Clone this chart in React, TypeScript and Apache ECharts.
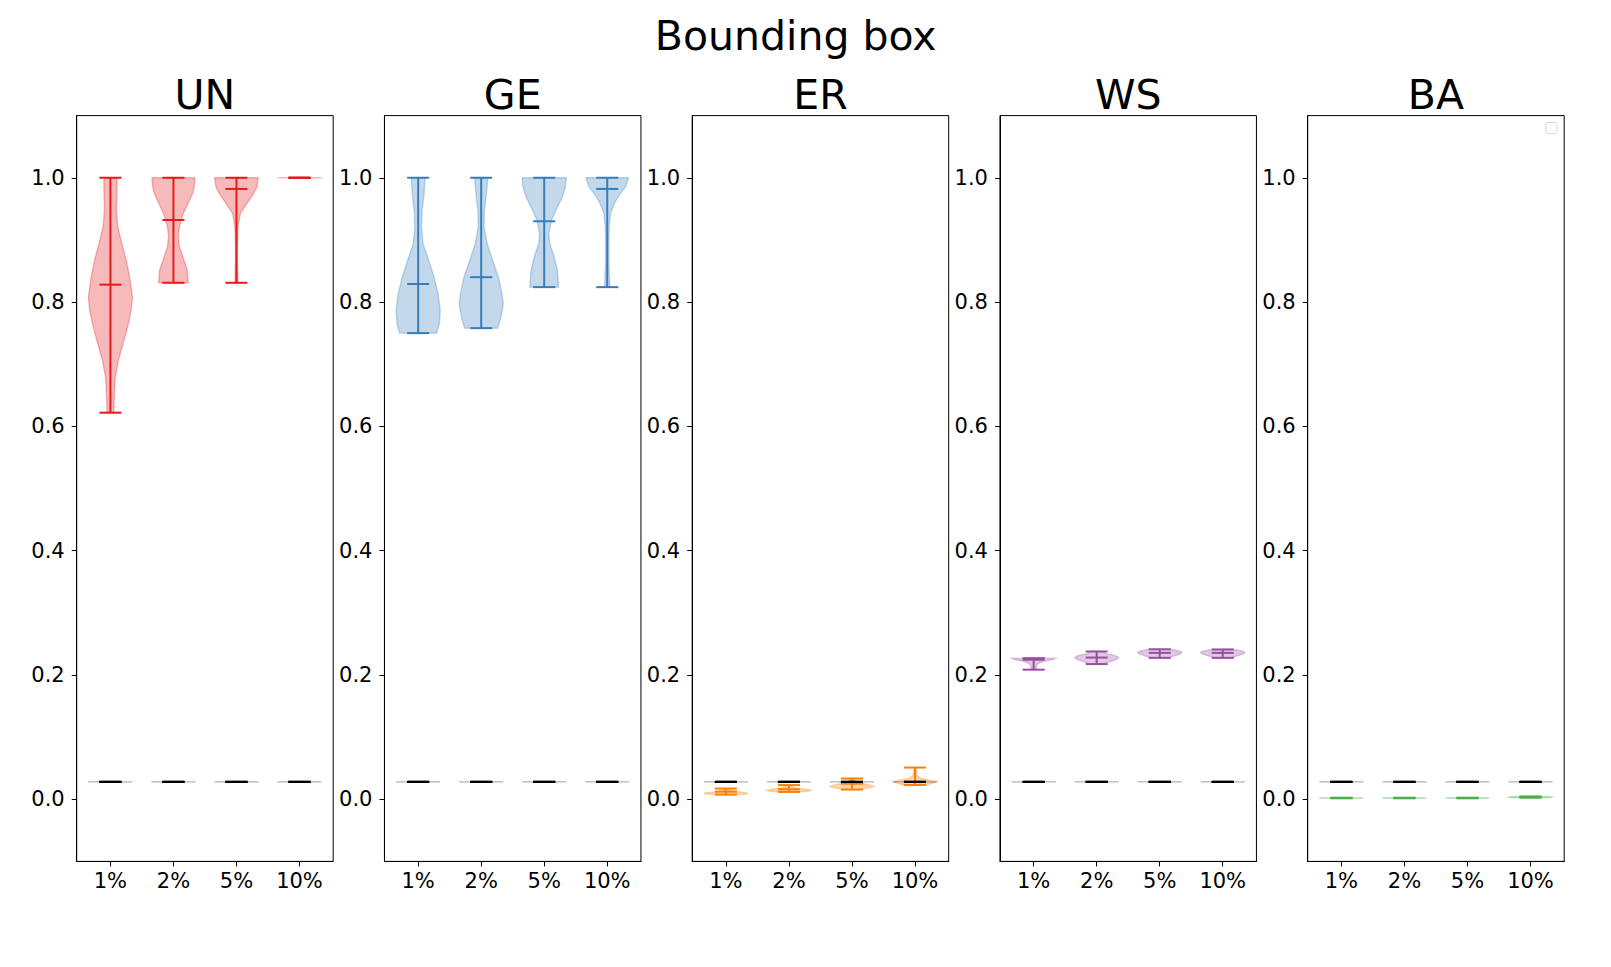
import React, { useEffect, useRef } from "react";
import * as echarts from "echarts";

// ---------- data ----------
const categories = ["1%", "2%", "5%", "10%"];
const positions = [1, 2, 3, 4];
const panels = ["UN", "GE", "ER", "WS", "BA"];
const panelColors = ["#e41a1c", "#377eb8", "#ff7f00", "#984ea3", "#4daf4a"];
const yTicks = [0, 0.2, 0.4, 0.6, 0.8, 1.0];
const suptitle = "Bounding box";

// constant reference violins (black)
const baselineValues = [0.028, 0.028, 0.028, 0.028];

// per-panel statistics (min / median / max)
const unMin = [0.622, 0.831, 0.831, 1.0];
const unMed = [0.828, 0.932, 0.982, 1.0];
const unMax = [1.0, 1.0, 1.0, 1.0];

const geMin = [0.75, 0.758, 0.824, 0.824];
const geMed = [0.829, 0.84, 0.93, 0.982];
const geMax = [1.0, 1.0, 1.0, 1.0];

const erMin = [0.0075, 0.0118, 0.0156, 0.023];
const erMed = [0.0123, 0.0161, 0.025, 0.0278];
const erMax = [0.0172, 0.0228, 0.0333, 0.051];

const wsMin = [0.2085, 0.2175, 0.2275, 0.2275];
const wsMed = [0.2245, 0.228, 0.2355, 0.2355];
const wsMax = [0.227, 0.2378, 0.2413, 0.241];

const baMin = [0.0015, 0.0015, 0.0015, 0.0025];
const baMed = [0.002, 0.002, 0.002, 0.0035];
const baMax = [0.0025, 0.0025, 0.0025, 0.0045];

// violin outlines: [value, relative half-width]
type Profile = [number, number][] | null;

const unProfiles: Profile[] = [
  [[0.622, 0.15], [0.652, 0.18], [0.679, 0.22], [0.706, 0.36], [0.733, 0.57], [0.76, 0.78], [0.787, 0.94], [0.808, 1.0], [0.84, 0.87], [0.867, 0.72], [0.894, 0.52], [0.921, 0.33], [0.948, 0.27], [0.975, 0.29], [1.0, 0.3]],
  [[0.831, 0.67], [0.851, 0.63], [0.867, 0.48], [0.889, 0.27], [0.905, 0.22], [0.921, 0.27], [0.943, 0.45], [0.959, 0.67], [0.975, 0.87], [0.985, 0.94], [1.0, 0.97]],
  [[0.831, 0.07], [0.867, 0.04], [0.894, 0.045], [0.921, 0.07], [0.943, 0.18], [0.959, 0.48], [0.975, 0.78], [0.985, 0.93], [1.0, 0.99]],
  null,
];

const geProfiles: Profile[] = [
  [[0.75, 0.84], [0.765, 0.96], [0.787, 1.0], [0.814, 0.9], [0.84, 0.72], [0.867, 0.48], [0.894, 0.22], [0.921, 0.15], [0.948, 0.18], [0.975, 0.27], [1.0, 0.31]],
  [[0.758, 0.75], [0.776, 0.9], [0.797, 1.0], [0.814, 0.94], [0.84, 0.78], [0.867, 0.52], [0.894, 0.27], [0.921, 0.13], [0.948, 0.15], [0.975, 0.24], [1.0, 0.3]],
  [[0.824, 0.65], [0.851, 0.6], [0.873, 0.45], [0.894, 0.25], [0.91, 0.21], [0.932, 0.33], [0.953, 0.6], [0.969, 0.82], [0.985, 0.96], [1.0, 1.0]],
  [[0.824, 0.12], [0.867, 0.075], [0.894, 0.075], [0.921, 0.09], [0.943, 0.15], [0.959, 0.33], [0.975, 0.6], [0.985, 0.82], [1.0, 0.97]],
];

const erProfiles: Profile[] = [
  [[0.0075, 0.55], [0.0085, 0.9], [0.0097, 1.0], [0.011, 0.75], [0.0125, 0.35], [0.0145, 0.15], [0.0172, 0.08]],
  [[0.0118, 0.6], [0.0132, 0.92], [0.0145, 1.0], [0.016, 0.75], [0.018, 0.35], [0.02, 0.15], [0.0228, 0.08]],
  [[0.0156, 0.35], [0.018, 0.75], [0.0204, 1.0], [0.023, 0.8], [0.026, 0.4], [0.029, 0.15], [0.0333, 0.06]],
  [[0.023, 0.5], [0.026, 0.85], [0.0285, 1.0], [0.031, 0.6], [0.034, 0.25], [0.038, 0.1], [0.044, 0.06], [0.051, 0.05]],
];

const wsProfiles: Profile[] = [
  [[0.2085, 0.12], [0.213, 0.12], [0.218, 0.18], [0.222, 0.45], [0.225, 0.9], [0.227, 1.0]],
  [[0.2175, 0.3], [0.221, 0.55], [0.225, 0.9], [0.228, 1.0], [0.231, 0.85], [0.234, 0.45], [0.2378, 0.2]],
  [[0.2275, 0.35], [0.231, 0.7], [0.2345, 0.97], [0.237, 1.0], [0.239, 0.8], [0.2413, 0.5]],
  [[0.2275, 0.35], [0.231, 0.7], [0.2345, 0.97], [0.237, 1.0], [0.239, 0.8], [0.241, 0.5]],
];

const baProfiles: Profile[] = [
  [[0.0015, 0.9], [0.002, 1.0], [0.0025, 0.9]],
  [[0.0015, 0.9], [0.002, 1.0], [0.0025, 0.9]],
  [[0.0015, 0.9], [0.002, 1.0], [0.0025, 0.9]],
  [[0.0025, 0.9], [0.0035, 1.0], [0.0045, 0.9]],
];

const panelStats = [
  { mins: unMin, meds: unMed, maxs: unMax, profiles: unProfiles },
  { mins: geMin, meds: geMed, maxs: geMax, profiles: geProfiles },
  { mins: erMin, meds: erMed, maxs: erMax, profiles: erProfiles },
  { mins: wsMin, meds: wsMed, maxs: wsMax, profiles: wsProfiles },
  { mins: baMin, meds: baMed, maxs: baMax, profiles: baProfiles },
];

// ---------- layout ----------
const W = 1611;
const H = 967;
const AX_LEFT0 = 76.7;
const AX_STEP = 307.75;
const AX_W = 256.5;
const AX_TOP = 115.6;
const AX_H = 745.8;
const HALF = 0.35; // half violin width (x units)
const FONT = "DejaVu Sans";
const TICK_FONT = 21;

function rgba(hex: string, a: number) {
  const n = parseInt(hex.slice(1), 16);
  return `rgba(${(n >> 16) & 255},${(n >> 8) & 255},${n & 255},${a})`;
}

function makeViolinSeries(
  gi: number,
  color: string,
  mins: number[],
  meds: number[],
  maxs: number[],
  profiles: Profile[]
) {
  return {
    type: "custom",
    xAxisIndex: gi,
    yAxisIndex: gi,
    silent: true,
    clip: false,
    data: positions.map((p, i) => [p, meds[i], i]),
    encode: { x: 0, y: 1 },
    renderItem: (params: any, api: any) => {
      const pos = api.value(0) as number;
      const i = api.value(2) as number;
      const children: any[] = [];
      const prof = profiles[i];
      const bodyFill = rgba(color, 0.3);
      if (prof && prof.length > 1) {
        const right = prof.map(([v, f]) => api.coord([pos + f * HALF, v]));
        const left = prof
          .slice()
          .reverse()
          .map(([v, f]) => api.coord([pos - f * HALF, v]));
        children.push({
          type: "polygon",
          shape: { points: right.concat(left) },
          style: { fill: bodyFill, stroke: bodyFill, lineWidth: 1.4 },
        });
      } else {
        const a = api.coord([pos - HALF, meds[i]]);
        const b = api.coord([pos + HALF, meds[i]]);
        children.push({
          type: "line",
          shape: { x1: a[0], y1: a[1], x2: b[0], y2: b[1] },
          style: { stroke: bodyFill, lineWidth: 1.4 },
        });
      }
      const seg = (x1: number, y1: number, x2: number, y2: number) => {
        const a = api.coord([x1, y1]);
        const b = api.coord([x2, y2]);
        return {
          type: "line",
          shape: { x1: a[0], y1: a[1], x2: b[0], y2: b[1] },
          style: { stroke: color, lineWidth: 2 },
        };
      };
      children.push(seg(pos, mins[i], pos, maxs[i]));
      children.push(seg(pos - HALF / 2, mins[i], pos + HALF / 2, mins[i]));
      children.push(seg(pos - HALF / 2, maxs[i], pos + HALF / 2, maxs[i]));
      children.push(seg(pos - HALF / 2, meds[i], pos + HALF / 2, meds[i]));
      return { type: "group", children };
    },
  };
}

function buildOption() {
  const grids: any[] = [];
  const xAxes: any[] = [];
  const yAxes: any[] = [];
  const series: any[] = [];
  const graphics: any[] = [];

  panels.forEach((name, gi) => {
    const left = AX_LEFT0 + gi * AX_STEP;
    grids.push({
      left,
      top: AX_TOP,
      width: AX_W,
      height: AX_H,
      show: true,
      borderColor: "#000",
      borderWidth: 1,
      backgroundColor: "transparent",
      containLabel: false,
    });
    xAxes.push({
      type: "value",
      gridIndex: gi,
      min: 0.465,
      max: 4.535,
      axisLine: { show: true, onZero: false, lineStyle: { color: "#000", width: 1 } },
      axisTick: {
        show: true,
        inside: false,
        length: 5,
        customValues: positions,
        lineStyle: { color: "#000", width: 1 },
      },
      axisLabel: {
        show: true,
        customValues: positions,
        formatter: (v: number) => categories[Math.round(v) - 1] ?? "",
        fontSize: TICK_FONT,
        fontFamily: FONT,
        color: "#000",
        margin: 9,
      },
      splitLine: { show: false },
    });
    yAxes.push({
      type: "value",
      gridIndex: gi,
      min: -0.1,
      max: 1.1,
      axisLine: { show: true, onZero: false, lineStyle: { color: "#000", width: 1 } },
      axisTick: {
        show: true,
        inside: false,
        length: 5,
        customValues: yTicks,
        lineStyle: { color: "#000", width: 1 },
      },
      axisLabel: {
        show: true,
        customValues: yTicks,
        formatter: (v: number) => v.toFixed(1),
        fontSize: TICK_FONT,
        fontFamily: FONT,
        color: "#000",
        margin: 12,
      },
      splitLine: { show: false },
    });

    const st = panelStats[gi];
    series.push(makeViolinSeries(gi, panelColors[gi], st.mins, st.meds, st.maxs, st.profiles));
    series.push(
      makeViolinSeries(
        gi,
        "#000000",
        baselineValues,
        baselineValues,
        baselineValues,
        [null, null, null, null]
      )
    );

    graphics.push({
      type: "text",
      x: left + AX_W / 2,
      y: 95,
      style: {
        text: name,
        fontSize: 41,
        fontFamily: FONT,
        fill: "#000",
        align: "center",
        verticalAlign: "middle",
      },
    });
  });

  graphics.push({
    type: "text",
    x: 795.7,
    y: 36,
    style: {
      text: suptitle,
      fontSize: 41,
      fontFamily: FONT,
      fill: "#000",
      align: "center",
      verticalAlign: "middle",
    },
  });

  // empty legend box (upper right of last panel)
  graphics.push({
    type: "rect",
    shape: { x: 1545.7, y: 122.5, width: 11.1, height: 11.1, r: 2 },
    style: { fill: "#ffffff", stroke: "#d6d6d6", lineWidth: 1 },
  });

  return {
    animation: false,
    backgroundColor: "#ffffff",
    grid: grids,
    xAxis: xAxes,
    yAxis: yAxes,
    series,
    graphic: graphics,
  };
}

export default function App() {
  const ref = useRef<HTMLDivElement>(null);
  useEffect(() => {
    if (!ref.current) return;
    const chart = echarts.init(ref.current, undefined, { renderer: "svg" });
    chart.setOption(buildOption() as any);
    return () => chart.dispose();
  }, []);
  return (
    <div
      ref={ref}
      style={{ position: "fixed", left: 0, top: 0, width: W, height: H, background: "#fff" }}
    />
  );
}
